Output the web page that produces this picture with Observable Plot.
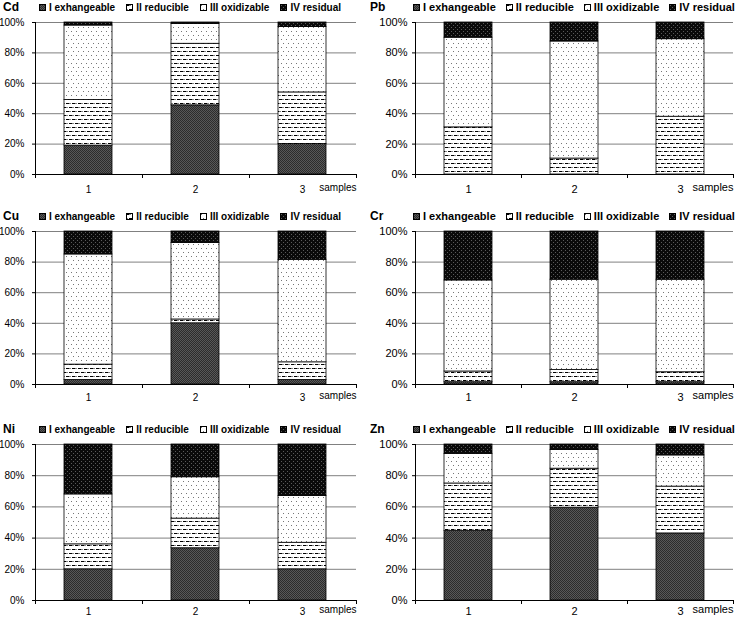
<!DOCTYPE html>
<html><head><meta charset="utf-8">
<script src="https://cdn.jsdelivr.net/npm/d3@7"></script>
<script src="https://cdn.jsdelivr.net/npm/@observablehq/plot@0.6"></script>
<style>
body{margin:0;background:#fff;width:738px;height:617px;overflow:hidden;position:relative;font-family:"Liberation Sans",Arial,sans-serif;color:#000;}
.panel{position:absolute;}
.legend{position:absolute;left:0;top:0;height:14px;display:flex;align-items:center;font-weight:bold;white-space:nowrap;}
.legend .metal{font-size:12px;}
.item{display:flex;align-items:center;}
.item svg{margin-right:3px;display:block}
.panel > svg.plot{position:absolute;left:0;top:14px;overflow:visible}
</style></head><body>
<svg id="defs" style="position:absolute;left:0;top:0;width:0;height:0">
<defs>
<pattern id="pI" width="2" height="2" patternUnits="userSpaceOnUse">
<rect width="2" height="2" fill="#585858"/><rect width="1" height="1" fill="#2c2c2c"/><rect x="1" y="1" width="1" height="1" fill="#2c2c2c"/>
</pattern>
<pattern id="pII" width="6" height="8" patternUnits="userSpaceOnUse">
<rect width="6" height="8" fill="#fff"/>
<rect x="0" y="1" width="3.5" height="1" fill="#000"/>
<rect x="3" y="5" width="3.5" height="1" fill="#000"/>
<rect x="-3" y="5" width="3.5" height="1" fill="#000"/>
<rect x="4" y="1" width="1" height="1" fill="#888"/>
<rect x="1" y="5" width="1" height="1" fill="#888"/>
</pattern>
<pattern id="pIII" width="5" height="8" patternUnits="userSpaceOnUse">
<rect width="5" height="8" fill="#fff"/>
<rect x="1" y="1" width="1" height="1" fill="#777"/>
<rect x="3" y="5" width="1" height="1" fill="#777"/>
</pattern>
<pattern id="pIV" width="4" height="4" patternUnits="userSpaceOnUse">
<rect width="4" height="4" fill="#0a0a0a"/>
<rect x="1" y="1" width="1" height="1" fill="#5a5a5a"/>
<rect x="3" y="3" width="1" height="1" fill="#5a5a5a"/>
</pattern>
</defs></svg>
<script>
// ---- data ----
const samples = ["1", "2", "3"];
const fractions = ["I exhangeable", "II reducible", "III oxidizable", "IV residual"];
const metals = ["Cd", "Pb", "Cu", "Cr", "Ni", "Zn"];
const yTicks = [0, 0.2, 0.4, 0.6, 0.8, 1];
// percentage of each fraction [I, II, III, IV] for samples 1, 2, 3
const Cd = [[19, 30, 49, 2], [45.5, 40.5, 13, 1], [20, 34, 43, 3]];
const Pb = [[0, 31, 59, 10], [0, 10.5, 77, 12.5], [0, 38, 51, 11]];
const Cu = [[3, 10, 72, 15], [40, 2.5, 50, 7.5], [3, 11.5, 67, 18.5]];
const Cr = [[1.5, 7, 59.5, 32], [1.5, 8, 59, 31.5], [1.5, 6.5, 60.5, 31.5]];
const Ni = [[20, 16, 32, 32], [33.5, 19, 26.5, 21], [20, 17, 30, 33]];
const Zn = [[44.5, 30.5, 19, 6], [59.5, 25, 12, 3.5], [43, 30, 20, 7]];
const values = {Cd, Pb, Cu, Cr, Ni, Zn};

const patterns = ["url(#pI)", "url(#pII)", "url(#pIII)", "url(#pIV)"];
const rowTop = [0, 209, 422];
const innerH = [152, 153, 156];
const labelPad = [11, 9, 7];

function makePanel(metal, idx) {
  const col = idx % 2, row = Math.floor(idx / 2);
  const left = col === 0;
  const vals = values[metal];
  const data = [];
  samples.forEach((s, i) => fractions.forEach((f, j) => data.push({sample: s, fraction: f, value: vals[i][j]})));
  const W = left ? 360 : 368, mL = left ? 35 : 45, mR = left ? 4 : 5;
  const mT = 8, mB = 20, H = innerH[row];
  const fs = left ? 10 : 11;

  const panel = document.createElement("div");
  panel.className = "panel";
  panel.style.left = (left ? 0 : 370) + "px";
  panel.style.top = rowTop[row] + "px";
  panel.style.width = W + "px";

  // legend
  const lg = document.createElement("div");
  lg.className = "legend";
  lg.style.fontSize = fs + "px";
  lg.style.paddingLeft = (left ? 3 : 0) + "px";
  const m = document.createElement("span");
  m.className = "metal";
  m.textContent = metal;
  m.style.width = (left ? 36 : 43) + "px";
  m.style.display = "inline-block";
  lg.appendChild(m);
  fractions.forEach((f, j) => {
    const it = document.createElement("span");
    it.className = "item";
    it.style.marginRight = (left ? 11 : 10) + "px";
    it.innerHTML = `<svg width="7" height="7"><rect x="0.5" y="0.5" width="6" height="6" fill="${patterns[j]}" stroke="#000" stroke-width="1"/></svg>`;
    const t = document.createElement("span");
    t.textContent = f;
    it.appendChild(t);
    lg.appendChild(it);
  });
  panel.appendChild(lg);

  const axisLines = (index, scales, vals2, dims) => {
    const ns = "http://www.w3.org/2000/svg";
    const g = document.createElementNS(ns, "g");
    const x0 = dims.marginLeft, x1 = dims.width - dims.marginRight;
    const yb = dims.height - dims.marginBottom, yt = dims.marginTop;
    const step = (x1 - x0) / samples.length;
    const line = (a, b, c, d) => {
      const l = document.createElementNS(ns, "line");
      l.setAttribute("x1", a); l.setAttribute("y1", b); l.setAttribute("x2", c); l.setAttribute("y2", d);
      l.setAttribute("stroke", "#000"); l.setAttribute("stroke-width", "1");
      g.appendChild(l);
    };
    line(x0 + 0.5, yt, x0 + 0.5, yb + 0.5);
    line(x0, yb + 0.5, x1, yb + 0.5);
    for (let k = 0; k <= samples.length; k++) {
      const xx = Math.round(x0 + k * step) + 0.5;
      line(xx, yb, xx, yb + 4);
    }
    return g;
  };

  const pad = labelPad[row];
  const plot = Plot.plot({
    width: W, height: mT + H + mB,
    marginTop: mT, marginBottom: mB, marginLeft: mL, marginRight: mR,
    style: {fontFamily: "'Liberation Sans', Arial, sans-serif", fontSize: fs + "px", color: "#000", background: "transparent", overflow: "visible"},
    x: {domain: samples, paddingInner: 0.55, paddingOuter: 0.275, label: null},
    y: {domain: [0, 1], label: null},
    color: {domain: fractions, range: patterns},
    marks: [
      Plot.gridY({ticks: yTicks.slice(1), stroke: "#808080", strokeOpacity: 1, strokeWidth: 1}),
      Plot.barY(data, Plot.stackY({offset: "normalize", order: fractions},
        {x: "sample", y: "value", fill: "fraction", stroke: "#000", strokeWidth: 0.8})),
      Plot.axisY({ticks: yTicks, tickFormat: d3.format(".0%"), tickSize: 3, tickPadding: left ? 8 : 5, label: null}),
      Plot.axisX({tickSize: 0, tickPadding: pad, label: null}),
      Plot.text(["samples"], {frameAnchor: "bottom-right", dy: pad + 5, textAnchor: "end", fontSize: fs}),
      axisLines
    ]
  });
  plot.classList.add("plot");
  panel.appendChild(plot);
  document.body.appendChild(panel);
}

metals.forEach((m, i) => makePanel(m, i));
</script>
</body></html>
